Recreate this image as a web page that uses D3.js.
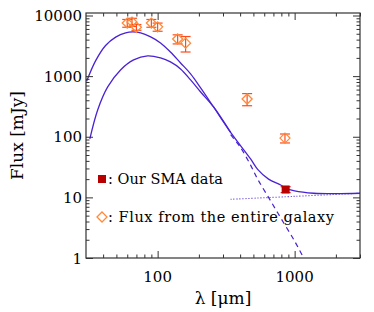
<!DOCTYPE html>
<html>
<head>
<meta charset="utf-8">
<script src="https://cdn.jsdelivr.net/npm/d3@7/dist/d3.min.js"></script>
<style>
  body { margin: 0; background: #fff; }
  text { font-family: "DejaVu Serif", serif; fill: #000; }
</style>
</head>
<body>
<svg id="chart" width="374" height="312"></svg>
<script>
// galaxy photometry (wavelength in um, flux in mJy)
var galLam  = [60, 65, 70, 90, 100, 140, 160, 450, 850];
var galFlux = [7500, 7800, 6400, 7500, 6500, 4100, 3500, 420, 95];
var galErr  = [1100, 1200, 700, 1100, 1000, 700, 1000, 95, 16];

// our SMA point
var smaLam = [860], smaFlux = [13.5], smaErr = [1.5];

// model curves
var warmLam  = [30.3, 35.3, 41.7, 49.4, 58.4, 65.7, 75.1, 88.9, 105, 124, 147, 174, 206, 256, 341, 477, 537, 645, 791, 860, 1000, 1377, 2000, 3000];
var warmFlux = [820, 1800, 3200, 4400, 5170, 5360, 5170, 4430, 3530, 2500, 1650, 1090, 640, 310, 118, 43, 29, 20, 16, 14.2, 12.8, 11.7, 11.5, 11.7];

var coldLam  = [32, 36.5, 43.2, 53.6, 66.8, 84.5, 105, 124, 147, 174, 206, 256, 341];
var coldFlux = [92, 277, 664, 1265, 1850, 2155, 1995, 1715, 1315, 866, 548, 310, 118];

var dustLam  = [341, 400, 477, 537, 645, 800, 1000, 1165, 1300];
var dustFlux = [108, 68, 34, 20, 10, 4.4, 1.9, 1.0, 0.66];

var ffLam  = [341, 1000, 3000];
var ffFlux = [9.3, 10.4, 11.7];

var xMajor = [100, 1000];
var xMinor = [40, 50, 60, 70, 80, 90, 200, 300, 400, 500, 600, 700, 800, 900, 2000, 3000];
var yMajor = [1, 10, 100, 1000, 10000];
var yMinor = [2, 3, 4, 5, 6, 7, 8, 9, 20, 30, 40, 50, 60, 70, 80, 90,
              200, 300, 400, 500, 600, 700, 800, 900, 2000, 3000, 4000, 5000, 6000, 7000, 8000, 9000];

(function() {

    var pLeft = 86, pRight = 360, pTop = 13, pBottom = 258;

    var svg = d3.select("#chart");

    var x = d3.scaleLog().domain([30, 3000]).range([pLeft, pRight]);
    var y = d3.scaleLog().domain([1, 11000]).range([pBottom, pTop]);

    svg.append("clipPath").attr("id", "clip")
        .append("rect")
        .attr("x", pLeft).attr("y", pTop)
        .attr("width", pRight - pLeft).attr("height", pBottom - pTop);

    var plot = svg.append("g").attr("clip-path", "url(#clip)");

    function pairs(lam, flux) {
        return lam.map(function(l, i) { return [l, flux[i]]; });
    }

    var line = d3.line()
        .x(function(d) { return x(d[0]); })
        .y(function(d) { return y(d[1]); })
        .curve(d3.curveCatmullRom.alpha(0.5));

    var blue = "#4a22d4";

    plot.append("path").datum(pairs(dustLam, dustFlux))
        .attr("d", line).attr("fill", "none").attr("stroke", blue)
        .attr("stroke-width", 1.2).attr("stroke-dasharray", "5,4");

    plot.append("path").datum(pairs(ffLam, ffFlux))
        .attr("d", line).attr("fill", "none").attr("stroke", blue)
        .attr("stroke-width", 1.1).attr("stroke-dasharray", "1,2");

    plot.append("path").datum(pairs(coldLam, coldFlux))
        .attr("d", line).attr("fill", "none").attr("stroke", blue).attr("stroke-width", 1.3);

    plot.append("path").datum(pairs(warmLam, warmFlux))
        .attr("d", line).attr("fill", "none").attr("stroke", blue).attr("stroke-width", 1.3);

    // error bars with small caps
    function errBars(lam, flux, err, color) {
        var g = plot.append("g").attr("stroke", color).attr("stroke-width", 1.2);
        lam.forEach(function(l, i) {
            var cx = x(l), y0 = y(flux[i] - err[i]), y1 = y(flux[i] + err[i]);
            g.append("line").attr("x1", cx).attr("x2", cx).attr("y1", y0).attr("y2", y1);
            g.append("line").attr("x1", cx - 5).attr("x2", cx + 5).attr("y1", y0).attr("y2", y0);
            g.append("line").attr("x1", cx - 5).attr("x2", cx + 5).attr("y1", y1).attr("y2", y1);
        });
    }

    function diamond(cx, cy, r) {
        return "M" + (cx - r) + "," + cy + "L" + cx + "," + (cy - r) +
            "L" + (cx + r) + "," + cy + "L" + cx + "," + (cy + r) + "Z";
    }

    errBars(galLam, galFlux, galErr, "#ff4a1c");

    plot.append("g").selectAll("path")
        .data(pairs(galLam, galFlux))
        .enter()
        .append("path")
        .attr("d", function(d) { return diamond(x(d[0]), y(d[1]), 5); })
        .attr("fill", "none")
        .attr("stroke", "#ff8a3a")
        .attr("stroke-width", 1.3);

    errBars(smaLam, smaFlux, smaErr, "#e8202a");

    plot.append("g").selectAll("rect")
        .data(pairs(smaLam, smaFlux))
        .enter()
        .append("rect")
        .attr("x", function(d) { return x(d[0]) - 4; })
        .attr("y", function(d) { return y(d[1]) - 4; })
        .attr("width", 8).attr("height", 8)
        .attr("fill", "#b80000");

    // axes, IDL style: ticks inward on all four sides
    var axisColor = "#333";

    function tickAxis(gen, scale, values, size, tx, ty) {
        var g = svg.append("g")
            .attr("transform", "translate(" + tx + "," + ty + ")")
            .call(gen(scale).tickValues(values).tickSize(size).tickFormat(""));
        g.select(".domain").remove();
        g.selectAll("line").attr("stroke", axisColor);
        return g;
    }

    tickAxis(d3.axisBottom, x, xMajor, -7, 0, pBottom);
    tickAxis(d3.axisBottom, x, xMinor, -3.5, 0, pBottom);
    tickAxis(d3.axisTop, x, xMajor, -7, 0, pTop);
    tickAxis(d3.axisTop, x, xMinor, -3.5, 0, pTop);
    tickAxis(d3.axisLeft, y, yMajor, -7, pLeft, 0);
    tickAxis(d3.axisLeft, y, yMinor, -3.5, pLeft, 0);
    tickAxis(d3.axisRight, y, yMajor, -7, pRight, 0);
    tickAxis(d3.axisRight, y, yMinor, -3.5, pRight, 0);

    svg.append("rect")
        .attr("x", pLeft).attr("y", pTop)
        .attr("width", pRight - pLeft).attr("height", pBottom - pTop)
        .attr("fill", "none").attr("stroke", axisColor).attr("stroke-width", 1.2);

    // tick labels
    svg.append("g").selectAll("text")
        .data(yMajor)
        .enter()
        .append("text")
        .attr("x", pLeft - 4)
        .attr("y", function(d) { return y(d) + 5.5; })
        .attr("text-anchor", "end")
        .attr("font-size", 15)
        .text(function(d) { return d; });

    svg.append("g").selectAll("text")
        .data(xMajor)
        .enter()
        .append("text")
        .attr("x", function(d) { return x(d); })
        .attr("y", pBottom + 24)
        .attr("text-anchor", "middle")
        .attr("font-size", 15)
        .text(function(d) { return d; });

    // axis titles
    svg.append("text")
        .attr("x", (pLeft + pRight) / 2)
        .attr("y", 304)
        .attr("text-anchor", "middle")
        .attr("font-size", 17)
        .text("λ [μm]");

    svg.append("text")
        .attr("transform", "translate(23," + ((pTop + pBottom) / 2) + ") rotate(-90)")
        .attr("text-anchor", "middle")
        .attr("font-size", 17)
        .text("Flux [mJy]");

    // legend
    svg.append("rect")
        .attr("x", 98).attr("y", 175).attr("width", 8).attr("height", 8)
        .attr("fill", "#b80000");
    svg.append("text")
        .attr("x", 108).attr("y", 184)
        .attr("font-size", 14.5)
        .attr("textLength", 115)
        .attr("lengthAdjust", "spacing")
        .text(": Our SMA data");

    svg.append("path")
        .attr("d", diamond(102, 217, 5))
        .attr("fill", "none").attr("stroke", "#ff8a3a").attr("stroke-width", 1.3);
    svg.append("text")
        .attr("x", 108).attr("y", 222)
        .attr("font-size", 14.5)
        .attr("textLength", 226)
        .attr("lengthAdjust", "spacing")
        .text(": Flux from the entire galaxy");

})();
</script>
</body>
</html>
